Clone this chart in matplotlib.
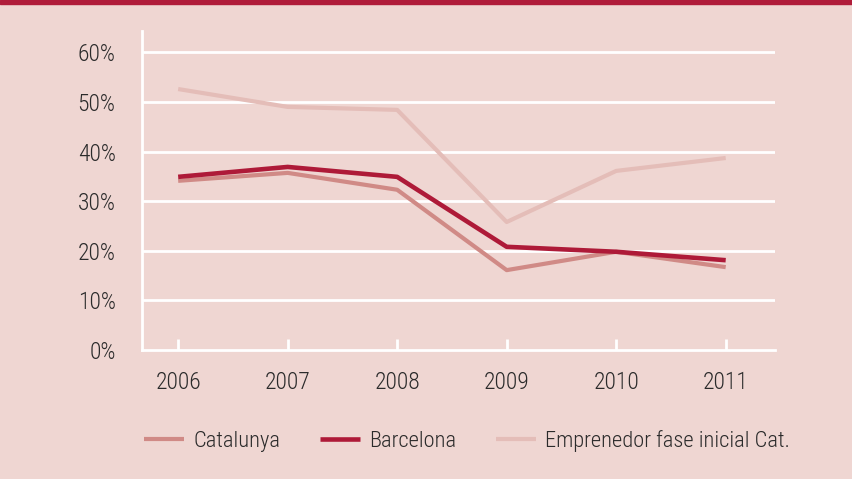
import matplotlib.pyplot as plt
import matplotlib.patches as patches
from matplotlib.ticker import FuncFormatter

# Datos
years = [2006, 2007, 2008, 2009, 2010, 2011]
catalunya = [34.1, 35.7, 32.3, 16.1, 19.8, 16.7]
barcelona = [34.9, 36.9, 34.9, 20.8, 19.8, 18.1]
emprenedor = [52.6, 49.0, 48.4, 25.8, 36.1, 38.7]

bg = '#efd6d2'
txt_color = '#2b2b2b'
plt.rcParams['font.family'] = ['Roboto Condensed', 'DejaVu Sans']
plt.rcParams['font.weight'] = 300

fig = plt.figure(figsize=(8.52, 4.79), dpi=100, facecolor=bg)
ax = fig.add_axes([0.1667, 0.2693, 0.7429, 0.666])
ax.set_facecolor(bg)

# Franja roja superior
fig.patches.append(patches.Rectangle((0, 0.9915), 1, 0.0085, transform=fig.transFigure,
                                     color='#b01c3a', zorder=5))

ax.plot(years, catalunya, color='#d08a86', lw=3.0, label='Catalunya', solid_capstyle='butt')
ax.plot(years, barcelona, color='#ae1a38', lw=3.3, label='Barcelona', solid_capstyle='butt')
ax.plot(years, emprenedor, color='#e4bdb8', lw=3.0, label='Emprenedor fase inicial Cat.',
        solid_capstyle='butt', zorder=1)

ax.set_xlim(2005.67, 2011.45)
ax.set_ylim(0, 64.3)
ax.set_yticks(range(0, 61, 10))
ax.yaxis.set_major_formatter(FuncFormatter(lambda v, p: f'{int(v)}%'))
ax.set_xticks(years)

for y in range(10, 61, 10):
    ax.axhline(y, color='white', lw=2, zorder=0)

for s in ['top', 'right']:
    ax.spines[s].set_visible(False)
for s in ['left', 'bottom']:
    ax.spines[s].set_color('white')
    ax.spines[s].set_linewidth(2)

ax.tick_params(axis='y', length=0, pad=19, labelsize=17, labelcolor=txt_color)
ax.tick_params(axis='x', direction='in', length=8, width=2, color='white', pad=15,
               labelsize=17, labelcolor=txt_color)

leg = fig.legend(loc='center left', bbox_to_anchor=(0.169, 0.079), ncol=3, frameon=False,
                 fontsize=16.2, handlelength=1.8, columnspacing=1.75, handletextpad=0.4,
                 borderpad=0, borderaxespad=0)
for t in leg.get_texts():
    t.set_color(txt_color)

fig.savefig('out.png', dpi=100, facecolor=bg)
